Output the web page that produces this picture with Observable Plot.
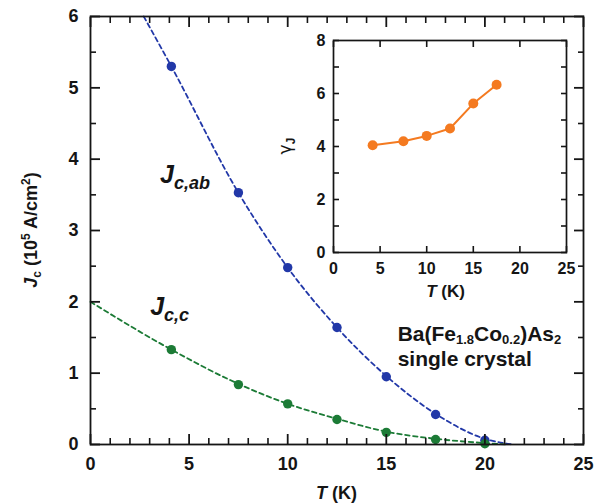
<!DOCTYPE html>
<html><head><meta charset="utf-8">
<script src="https://cdn.jsdelivr.net/npm/d3@7"></script>
<script src="https://cdn.jsdelivr.net/npm/@observablehq/plot@0.6"></script>
<style>
body{margin:0;background:#fff}
#wrap{position:relative;width:600px;height:504px;overflow:hidden;background:#fff}
#main,#inset{position:absolute}
#main{left:0;top:0}
#inset{left:270px;top:30px}
svg{overflow:visible}
</style></head><body>
<div id="wrap"><div id="main"></div><div id="inset"></div></div>
<script>
// ---- data ----
const temps = [4.1, 7.5, 10, 12.5, 15, 17.5, 20];
const jcAb  = [5.3, 3.53, 2.48, 1.64, 0.95, 0.42, 0.06];
const jcC   = [1.33, 0.84, 0.57, 0.35, 0.17, 0.07, 0.01];
const fitAbT = [2.7, 4.1, 7.5, 10, 12.5, 15, 17.5, 20, 21.4];
const fitAbJ = [6.0, 5.3, 3.53, 2.48, 1.64, 0.96, 0.43, 0.08, 0];
const fitCT  = [0, 4.1, 7.5, 10, 12.5, 15, 17.5, 20, 21.2];
const fitCJ  = [2.0, 1.33, 0.85, 0.57, 0.36, 0.18, 0.08, 0.02, 0];
const insetT = [4.2, 7.5, 10, 12.5, 15, 17.5];
const gammaJ = [4.05, 4.2, 4.4, 4.68, 5.62, 6.33];
const mainXTicks = [0, 5, 10, 15, 20, 25];
const mainYTicks = [0, 1, 2, 3, 4, 5, 6];
const insetXTicks = [0, 5, 10, 15, 20, 25];
const insetYTicks = [0, 2, 4, 6, 8];

const C = {blue: "#2238a8", green: "#1c7b36", orange: "#f47a20", ink: "#151515"};
const font = "'Liberation Sans', Arial, sans-serif";
const zip = (xs, ys) => xs.map((t, i) => ({t, v: ys[i]}));

const mainXMinor = d3.range(0, 25.01, 1).filter(d => d % 5 !== 0);
const mainYMinor = d3.range(0.5, 6, 1);

// inward ticks on all four sides: the library's axis ticks shifted inside the frame, no labels
function frameTicks(xs, ys, len, sw) {
  const o = {tickSize: len, fill: "none", label: null, stroke: C.ink, strokeWidth: sw};
  return [
    Plot.axisX({...o, anchor: "bottom", ticks: xs, dy: -len}),
    Plot.axisX({...o, anchor: "top", ticks: xs, dy: len}),
    Plot.axisY({...o, anchor: "left", ticks: ys, dx: len}),
    Plot.axisY({...o, anchor: "right", ticks: ys, dx: -len})
  ];
}

function rich(svg, x, y, parts, {size = 18, rotate = 0, anchor = "start", family = font} = {}) {
  const t = d3.select(svg).append("text")
    .attr("transform", `translate(${x},${y}) rotate(${rotate})`)
    .attr("text-anchor", anchor).attr("font-weight", "bold")
    .attr("font-size", size).attr("fill", C.ink).attr("font-family", family);
  parts.forEach(p => {
    t.append("tspan").text(p.t)
      .attr("font-size", p.size || size)
      .attr("font-style", p.italic ? "italic" : null)
      .attr("font-weight", p.weight || null)
      .attr("font-family", p.family || null)
      .attr("dy", p.dy || 0);
  });
}

// ---- main chart ----
const W = 600, H = 504, ML = 90, MR = 17, MT = 16, MB = 60;
const iw = W - ML - MR, ih = H - MT - MB;

const main = Plot.plot({
  width: W, height: H, marginLeft: ML, marginRight: MR, marginTop: MT, marginBottom: MB,
  style: {fontFamily: font, background: "transparent", color: C.ink},
  x: {domain: [0, 25]}, y: {domain: [0, 6]},
  marks: [
    Plot.line(zip(fitAbT, fitAbJ), {x: "t", y: "v", curve: "monotone-x", stroke: C.blue, strokeWidth: 1.8, strokeDasharray: "4.5,3.5"}),
    Plot.line(zip(fitCT, fitCJ), {x: "t", y: "v", curve: "monotone-x", stroke: C.green, strokeWidth: 1.8, strokeDasharray: "4.5,3.5"}),
    Plot.dot(zip(temps, jcAb), {x: "t", y: "v", r: 4.7, fill: C.blue}),
    Plot.dot(zip(temps, jcC), {x: "t", y: "v", r: 4.7, fill: C.green}),
    ...frameTicks(mainXTicks, mainYTicks, 10, 1.8),
    ...frameTicks(mainXMinor, mainYMinor, 6, 1.6),
    Plot.axisX({ticks: mainXTicks, tickFormat: "d", tickSize: 0, tickPadding: 13, fontSize: 18, fontWeight: "bold", label: null}),
    Plot.axisY({ticks: mainYTicks, tickFormat: "d", tickSize: 0, tickPadding: 12, fontSize: 18, fontWeight: "bold", label: null}),
    Plot.frame({stroke: C.ink, strokeWidth: 1.8})
  ]
});
document.getElementById("main").appendChild(main);
const sx = main.scale("x"), sy = main.scale("y");

rich(main, sx.apply(3.55), sy.apply(3.66), [
  {t: "J", italic: true, size: 25}, {t: "c,ab", italic: true, size: 18, dy: 6}
]);
rich(main, sx.apply(3.05), sy.apply(1.81), [
  {t: "J", italic: true, size: 25}, {t: "c,c", italic: true, size: 18, dy: 6}
]);
rich(main, sx.apply(15.6), sy.apply(1.44), [
  {t: "Ba(Fe"}, {t: "1.8", size: 13, dy: 3}, {t: "Co", dy: -3},
  {t: "0.2", size: 13, dy: 3}, {t: ")As", dy: -3}, {t: "2", size: 13, dy: 3}
], {size: 21});
rich(main, sx.apply(15.6), sy.apply(1.09), [{t: "single crystal"}], {size: 21});
rich(main, (ML + W - MR) / 2, 499, [{t: "T", italic: true}, {t: " (K)"}], {size: 18, anchor: "middle"});
rich(main, 37, MT + ih / 2, [
  {t: "J", italic: true}, {t: "c", size: 12, dy: 4}, {t: " (10", dy: -4},
  {t: "5", size: 12, dy: -7}, {t: " A/cm", dy: 7}, {t: "2", size: 12, dy: -7}, {t: ")", dy: 7}
], {size: 18, rotate: -90, anchor: "middle"});

// ---- inset ----
const IW = 310, IH = 290, IML = 63, IMR = 14, IMT = 10, IMB = 68;
const iiw = IW - IML - IMR, iih = IH - IMT - IMB;
const inset = Plot.plot({
  width: IW, height: IH, marginLeft: IML, marginRight: IMR, marginTop: IMT, marginBottom: IMB,
  style: {fontFamily: font, background: "transparent", color: C.ink},
  x: {domain: [0, 25]}, y: {domain: [0, 8]},
  marks: [
    Plot.line(zip(insetT, gammaJ), {x: "t", y: "v", stroke: C.orange, strokeWidth: 2}),
    Plot.dot(zip(insetT, gammaJ), {x: "t", y: "v", r: 5, fill: C.orange}),
    ...frameTicks(insetXTicks, d3.range(0, 8.01, 1), 6, 1.6),
    Plot.axisX({ticks: insetXTicks, tickFormat: "d", tickSize: 0, tickPadding: 10, fontSize: 16, fontWeight: "bold", label: null}),
    Plot.axisY({ticks: insetYTicks, tickFormat: "d", tickSize: 0, tickPadding: 8, fontSize: 16, fontWeight: "bold", label: null}),
    Plot.frame({stroke: C.ink, strokeWidth: 1.7})
  ]
});
document.getElementById("inset").appendChild(inset);
rich(inset, IML + iiw / 2 - 4, 267, [{t: "T", italic: true}, {t: " (K)"}], {size: 17, anchor: "middle"});
rich(inset, 21, IMT + iih / 2, [
  {t: "γ", weight: "normal", family: "'DejaVu Sans', sans-serif"}, {t: "J", size: 12, dy: 4}
], {size: 17, rotate: -90, anchor: "middle"});
</script>
</body></html>
